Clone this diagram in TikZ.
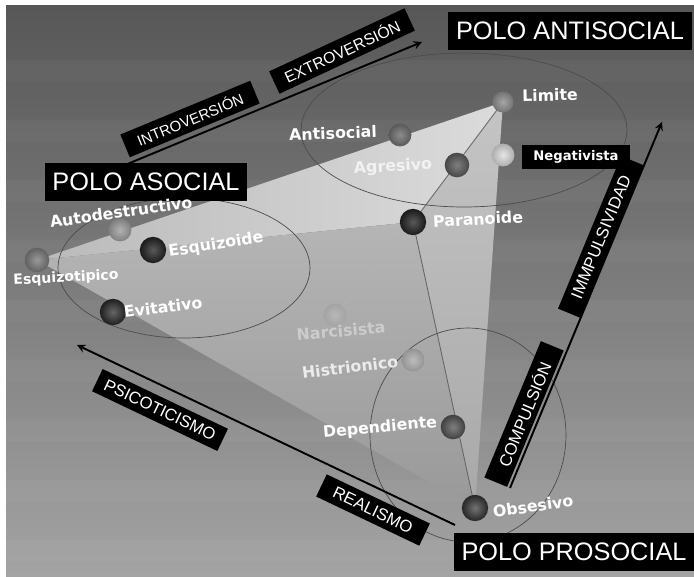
\documentclass[tikz,border=0pt]{standalone}
\usepackage{fontspec}
\setmainfont{Liberation Sans}
\newfontfamily\traitfont{DejaVu Sans}
\usetikzlibrary{arrows, calc}

\begin{document}
\begin{tikzpicture}[x=0.02cm, y=-0.02cm, >=stealth,
	pole/.style={fill=black, text=white, font=\fontsize{14.4}{15}\selectfont, minimum height=21.5pt, inner xsep=4.5pt},
	axislabel/.style={fill=black, text=white, font=\fontsize{9.5}{10}\selectfont, minimum height=14pt, inner ysep=1pt},
	trait/.style={text=white, font=\traitfont\bfseries\fontsize{9}{9}\selectfont, rotate=3},
	orb/.style 2 args={circle, inner sep=0pt, minimum size=14pt, inner color=#1, outer color=#2},
	axis/.style={->, line width=1.1pt},
	edge/.style={black!60, line width=0.5pt}]
	\useasboundingbox (0,0) rectangle (694,576);
	\fill[white] (0,0) rectangle (694,576);
	\shade[top color=black!66, bottom color=black!36] (6,5) rectangle (694,576);
	\foreach \y in {60,120,180,240,300,360,420,480,540}
		\fill[white, opacity=0.03] (6,\y) rectangle (694,\y+22);

	% pyramid
	\coordinate (ET) at (37,260);
	\coordinate (LI) at (503,102);
	\coordinate (OB) at (475,508);
	\coordinate (PA) at (413,222);
	\coordinate (NA) at (335,315);
	\shade[left color=black!27, right color=black!14] (ET) -- (LI) -- (PA) -- cycle;
	\shade[top color=black!29, bottom color=black!40] (ET) -- (PA) -- (OB) -- cycle;
	\shade[top color=black!23, bottom color=black!34] (PA) -- (LI) -- (OB) -- cycle;
	\draw[edge] (PA) -- (LI);
	\draw[edge] (PA) -- (OB);
	\draw[black!30, line width=0.4pt] (PA) -- (NA);

	% clusters
	\draw[black!70] (464,130) ellipse [x radius=3.26cm, y radius=1.54cm];
	\draw[black!70] (184,268) ellipse [x radius=2.52cm, y radius=1.40cm];
	\draw[black!70] (468,435) ellipse [x radius=1.96cm, y radius=2.14cm];

	% axes
	\coordinate (ieA) at (125,165);
	\coordinate (ieB) at (422,42);
	\coordinate (ciA) at (510,488);
	\coordinate (ciB) at (662,122);
	\coordinate (prA) at (455,525);
	\coordinate (prB) at (77,345);
	\draw[axis] (ieA) -- (ieB);
	\draw[axis] (ciA) -- (ciB);
	\draw[axis] (prA) -- (prB);
	\node[axislabel, rotate=22.5, minimum width=80pt, font=\fontsize{8.5}{9}\selectfont] (introv) at (190,119) {INTROVERSIÓN};
	\node[axislabel, rotate=25, minimum width=85pt, font=\fontsize{9}{9}\selectfont] (extrov) at (342,51) {EXTROVERSIÓN};
	\node[axislabel, rotate=67.5, minimum width=84pt] (compul) at (524,414) {COMPULSIÓN};
	\node[axislabel, rotate=67.5, minimum width=94pt] (impul) at (601,237) {IMMPULSIVIDAD};
	\node[axislabel, rotate=-25.5, minimum width=79pt] (psico) at (160,410) {PSICOTICISMO};
	\node[axislabel, rotate=-25.5, minimum width=65pt] (realis) at (373,510) {REALISMO};

	% poles
	\node[pole] (poloAnti) at (570,31) {POLO ANTISOCIAL};
	\node[pole] (poloAso) at (146,182) {POLO ASOCIAL};
	\node[pole] (poloPro) at (574,552) {POLO PROSOCIAL};

	% disorders
	\node[orb={black!35}{black!55}, minimum size=12pt] (limite) at (LI) {};
	\node[orb={black!45}{black!65}, minimum size=13pt] (antisocial) at (400,135) {};
	\node[orb={black!50}{black!72}] (agresivo) at (457,165) {};
	\node[orb={black!10}{black!32}, minimum size=13pt] (negativista) at (503,155) {};
	\node[orb={black!65}{black!90}, minimum size=15pt] (paranoide) at (PA) {};
	\node[orb={black!30}{black!50}, minimum size=13pt] (autodestr) at (120,230) {};
	\node[orb={black!65}{black!90}, minimum size=15pt] (esquizoide) at (153,250) {};
	\node[orb={black!40}{black!62}] (esquizotip) at (ET) {};
	\node[orb={black!60}{black!88}, minimum size=15pt] (evitativo) at (113,312) {};
	\node[orb={black!28}{black!36}, minimum size=13pt] (narcisista) at (NA) {};
	\node[orb={black!26}{black!42}, minimum size=13pt] (histrionico) at (413,360) {};
	\node[orb={black!50}{black!75}] (dependiente) at (453,427) {};
	\node[orb={black!55}{black!85}, minimum size=15pt] (obsesivo) at (OB) {};

	\node[trait, rotate=-2] (limiteTxt) at (550,95) {Limite};
	\node[trait, rotate=-1] (antisocialTxt) at (333,133) {Antisocial};
	\node[trait, text=black!5] (agresivoTxt) at (393,167) {Agresivo};
	\node[fill=black, text=white, font=\traitfont\bfseries\fontsize{7.5}{8}\selectfont, minimum width=61pt, minimum height=13pt] (negativistaTxt) at (576,157) {Negativista};
	\node[trait] (paranoideTxt) at (478,219) {Paranoide};
	\node[trait, rotate=5] (autodestrTxt) at (121,212) {Autodestructivo};
	\node[trait, rotate=6] (esquizoideTxt) at (216,245) {Esquizoide};
	\node[trait, font=\traitfont\bfseries\fontsize{8}{8}\selectfont] (esquizotipTxt) at (66,278) {Esquizotipico};
	\node[trait, rotate=4] (evitativoTxt) at (163,307) {Evitativo};
	\node[trait, rotate=2, text=black!20] (narcisistaTxt) at (341,331) {Narcisista};
	\node[trait, rotate=4, text=black!8] (histrionicoTxt) at (350,367) {Histrionico};
	\node[trait, rotate=2] (dependienteTxt) at (380,428) {Dependiente};
	\node[trait, rotate=5] (obsesivoTxt) at (533,506) {Obsesivo};
\end{tikzpicture}
\end{document}
